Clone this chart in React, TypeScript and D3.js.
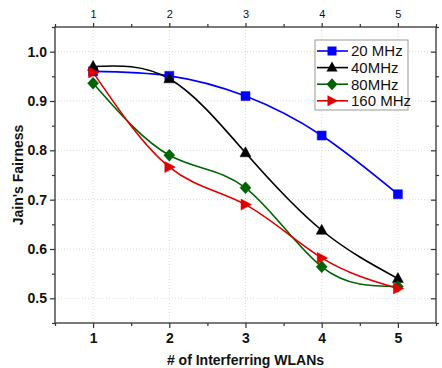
import React, { useEffect, useRef } from 'react';
import * as d3 from 'd3';

const wlans = [1, 2, 3, 4, 5];
const mhz20 = [0.96, 0.951, 0.91, 0.83, 0.711];
const mhz40 = [0.97, 0.945, 0.795, 0.638, 0.54];
const mhz80 = [0.936, 0.79, 0.724, 0.564, 0.524];
const mhz160 = [0.958, 0.766, 0.69, 0.582, 0.52];
const yTicks = [0.5, 0.6, 0.7, 0.8, 0.9, 1.0];

const seriesList = [
  { name: '20 MHz', values: mhz20, color: '#0000ff', marker: 'square' },
  { name: '40MHz', values: mhz40, color: '#000000', marker: 'triangle' },
  { name: '80MHz', values: mhz80, color: '#006400', marker: 'diamond' },
  { name: '160 MHz', values: mhz160, color: '#e00000', marker: 'right' },
];

const width = 442;
const height = 368;
const margin = { top: 27, right: 6, bottom: 45, left: 55 };

const markerPath = (type: string) => {
  switch (type) {
    case 'square':
      return 'M-4.5,-4.5H4.5V4.5H-4.5Z';
    case 'triangle':
      return 'M0,-6L5.5,4L-5.5,4Z';
    case 'diamond':
      return 'M0,-6L5.5,0L0,6L-5.5,0Z';
    default:
      return 'M6,0L-4.5,-5.5L-4.5,5.5Z';
  }
};

const App = () => {
  const svgRef = useRef<SVGSVGElement>(null);

  useEffect(() => {
    const svg = d3.select(svgRef.current);
    svg.selectAll('*').remove();

    const innerWidth = width - margin.left - margin.right;
    const innerHeight = height - margin.top - margin.bottom;

    const x = d3.scaleLinear().domain([0.5, 5.5]).range([0, innerWidth]);
    const y = d3.scaleLinear().domain([0.45, 1.05]).range([innerHeight, 0]);

    const g = svg.append('g').attr('transform', `translate(${margin.left},${margin.top})`);

    // grid
    g.append('g')
      .selectAll('line.gx')
      .data(wlans)
      .enter()
      .append('line')
      .attr('x1', d => x(d))
      .attr('x2', d => x(d))
      .attr('y1', 0)
      .attr('y2', innerHeight)
      .attr('stroke', '#d0d0d0')
      .attr('stroke-width', 0.8)
      .attr('stroke-dasharray', '1,2');
    g.append('g')
      .selectAll('line.gy')
      .data(yTicks)
      .enter()
      .append('line')
      .attr('x1', 0)
      .attr('x2', innerWidth)
      .attr('y1', d => y(d))
      .attr('y2', d => y(d))
      .attr('stroke', '#d0d0d0')
      .attr('stroke-width', 0.8)
      .attr('stroke-dasharray', '1,2');

    const minorX = d3.range(0.5, 5.51, 0.5).filter(v => !wlans.includes(v));
    const minorY = d3.range(0.45, 1.051, 0.1);

    const styleAxis = (sel: any) => {
      sel.select('.domain').remove();
      sel.selectAll('line').attr('stroke', '#333').attr('stroke-width', 1.2);
    };

    // bottom axis
    const bottom = g.append('g').attr('transform', `translate(0,${innerHeight})`)
      .call(d3.axisBottom(x).tickValues(wlans).tickFormat(d3.format('d')).tickSize(5).tickPadding(5));
    styleAxis(bottom);
    bottom.selectAll('text').attr('font-size', 14).attr('font-weight', 'bold').attr('font-family', 'Liberation Sans, Arial, sans-serif').attr('fill', '#111');
    g.append('g').attr('transform', `translate(0,${innerHeight})`)
      .call(d3.axisBottom(x).tickValues(minorX).tickFormat(() => '').tickSize(3))
      .call(styleAxis);

    // top axis
    const top = g.append('g')
      .call(d3.axisTop(x).tickValues(wlans).tickFormat(d3.format('d')).tickSize(4).tickPadding(5));
    styleAxis(top);
    top.selectAll('text').attr('font-size', 11).attr('font-family', 'Liberation Sans, Arial, sans-serif').attr('fill', '#111');
    g.append('g')
      .call(d3.axisTop(x).tickValues(minorX).tickFormat(() => '').tickSize(3))
      .call(styleAxis);

    // left axis
    const left = g.append('g')
      .call(d3.axisLeft(y).tickValues(yTicks).tickFormat(d3.format('.1f')).tickSize(5).tickPadding(3));
    styleAxis(left);
    left.selectAll('text').attr('font-size', 14).attr('font-weight', 'bold').attr('font-family', 'Liberation Sans, Arial, sans-serif').attr('fill', '#111');
    g.append('g')
      .call(d3.axisLeft(y).tickValues(minorY).tickFormat(() => '').tickSize(3))
      .call(styleAxis);

    // right axis (ticks inward)
    g.append('g').attr('transform', `translate(${innerWidth},0)`)
      .call(d3.axisRight(y).tickValues(yTicks).tickFormat(() => '').tickSize(-5))
      .call(styleAxis);
    g.append('g').attr('transform', `translate(${innerWidth},0)`)
      .call(d3.axisRight(y).tickValues(minorY).tickFormat(() => '').tickSize(3))
      .call(styleAxis);

    // frame
    g.append('rect')
      .attr('width', innerWidth)
      .attr('height', innerHeight)
      .attr('fill', 'none')
      .attr('stroke', '#333')
      .attr('stroke-width', 1.3);

    const line = d3.line<number>()
      .x((_, i) => x(wlans[i]))
      .y(d => y(d))
      .curve(d3.curveNatural);

    seriesList.forEach(s => {
      g.append('path')
        .datum(s.values)
        .attr('fill', 'none')
        .attr('stroke', s.color)
        .attr('stroke-width', 1.6)
        .attr('d', line);
    });
    seriesList.forEach(s => {
      g.selectAll(null)
        .data(s.values)
        .enter()
        .append('path')
        .attr('transform', (d, i) => `translate(${x(wlans[i])},${y(d)})`)
        .attr('d', markerPath(s.marker))
        .attr('fill', s.color)
        .attr('stroke', s.color)
        .attr('stroke-width', 0.5);
    });

    // legend
    const lg = svg.append('g').attr('transform', 'translate(315,40)');
    lg.append('rect')
      .attr('width', 93)
      .attr('height', 70)
      .attr('fill', '#fff')
      .attr('stroke', '#999')
      .attr('stroke-width', 1);
    seriesList.forEach((s, i) => {
      const row = lg.append('g').attr('transform', `translate(0,${11 + i * 16.6})`);
      row.append('line').attr('x1', 2).attr('x2', 33).attr('stroke', s.color).attr('stroke-width', 1.6);
      row.append('path').attr('transform', 'translate(17,0)').attr('d', markerPath(s.marker)).attr('fill', s.color);
      row.append('text')
        .attr('x', 36)
        .attr('dy', '0.36em')
        .attr('font-size', 15)
        .attr('font-family', 'Liberation Sans, Arial, sans-serif')
        .attr('fill', '#111')
        .text(s.name);
    });

    // axis titles
    svg.append('text')
      .attr('x', margin.left + innerWidth / 2)
      .attr('y', 365)
      .attr('text-anchor', 'middle')
      .attr('font-size', 14)
      .attr('font-weight', 'bold')
      .attr('font-family', 'Liberation Sans, Arial, sans-serif')
      .attr('fill', '#111')
      .text('# of Interferring WLANs');
    svg.append('text')
      .attr('transform', `translate(23,${margin.top + innerHeight / 2}) rotate(-90)`)
      .attr('text-anchor', 'middle')
      .attr('font-size', 14)
      .attr('font-weight', 'bold')
      .attr('font-family', 'Liberation Sans, Arial, sans-serif')
      .attr('fill', '#111')
      .text("Jain's Fairness");
  }, []);

  return (
    <div style={{ position: 'absolute', left: 0, top: 0 }}>
      <svg ref={svgRef} width={width} height={height} style={{ display: 'block', background: '#fff' }} />
    </div>
  );
};

export default App;
